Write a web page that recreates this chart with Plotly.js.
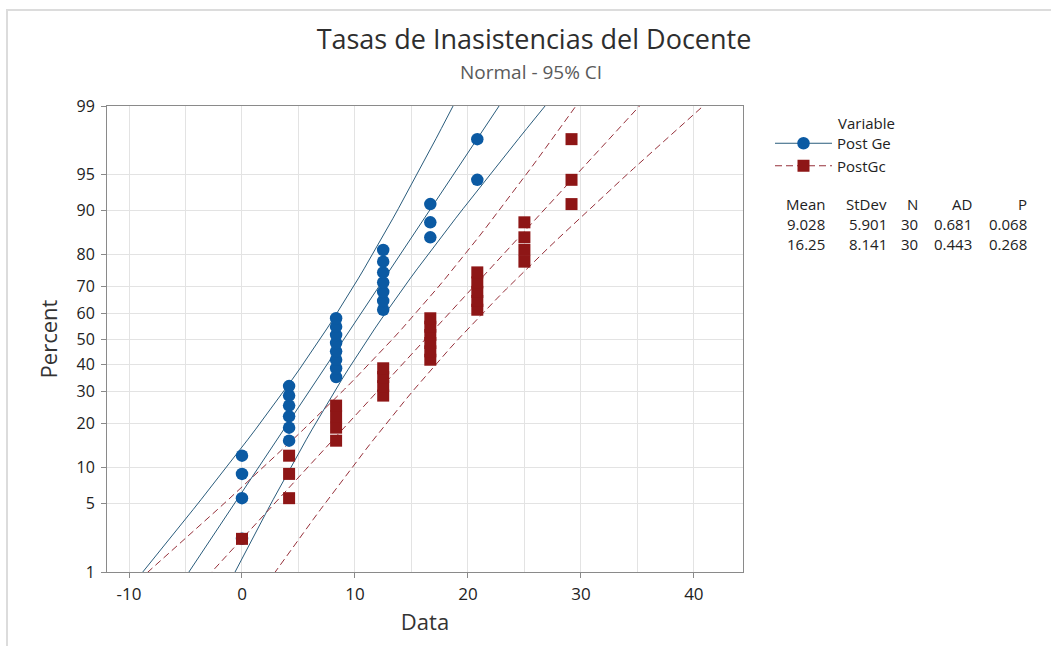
<!DOCTYPE html>
<html>
<head>
<meta charset="utf-8">
<script src="https://cdn.plot.ly/plotly-3.0.1.min.js"></script>
<style>html,body{margin:0;padding:0;background:#fff;}#chart{width:1051px;height:646px;}</style>
</head>
<body>
<div id="chart"></div>
<script>
// ---- Data ----
const seriesNames = ['Post Ge', 'PostGc'];
const postGeValues = [0, 0, 0, 0, 4.17, 4.17, 4.17, 4.17, 4.17, 4.17, 8.33, 8.33, 8.33, 8.33, 8.33, 8.33, 8.33, 8.33, 12.5, 12.5, 12.5, 12.5, 12.5, 12.5, 12.5, 16.67, 16.67, 16.67, 20.83, 20.83];
const postGcValues = [0, 4.17, 4.17, 4.17, 8.33, 8.33, 8.33, 8.33, 12.5, 12.5, 12.5, 12.5, 16.67, 16.67, 16.67, 16.67, 16.67, 16.67, 20.83, 20.83, 20.83, 20.83, 20.83, 25, 25, 25, 25, 29.17, 29.17, 29.17];
const plotPercents = [2.3, 5.6, 8.9, 12.2, 15.5, 18.8, 22.0, 25.3, 28.6, 31.9, 35.2, 38.5, 41.8, 45.1, 48.4, 51.6, 54.9, 58.2, 61.5, 64.8, 68.1, 71.4, 74.7, 78.0, 81.3, 84.5, 87.8, 91.1, 94.4, 97.7];
const means = [9.028, 16.25];
const stdevs = [5.901, 8.141];
const counts = [30, 30];
const adStats = ['0.681', '0.443'];
const pValues = ['0.068', '0.268'];
const meanLabels = ['9.028', '16.25'];
const stdevLabels = ['5.901', '8.141'];
const percentTicks = [1, 5, 10, 20, 30, 40, 50, 60, 70, 80, 90, 95, 99];
const dataTicks = [-10, 0, 10, 20, 30, 40];

// ---- Normal probability scale helper (inverse normal CDF, Acklam) ----
function invNorm(p) {
  const a = [-3.969683028665376e+01, 2.209460984245205e+02, -2.759285104469687e+02, 1.383577518672690e+02, -3.066479806614716e+01, 2.506628277459239e+00];
  const b = [-5.447609879822406e+01, 1.615858368580409e+02, -1.556989798598866e+02, 6.680131188771972e+01, -1.328068155288572e+01];
  const c = [-7.784894002430293e-03, -3.223964580411365e-01, -2.400758277161838e+00, -2.549732539343734e+00, 4.374664141464968e+00, 2.938163982698783e+00];
  const d = [7.784695709041462e-03, 3.224671290700398e-01, 2.445134137142996e+00, 3.754408661907416e+00];
  const pl = 0.02425, ph = 1 - pl;
  let q, r;
  if (p < pl) { q = Math.sqrt(-2 * Math.log(p)); return (((((c[0]*q+c[1])*q+c[2])*q+c[3])*q+c[4])*q+c[5]) / ((((d[0]*q+d[1])*q+d[2])*q+d[3])*q+1); }
  if (p <= ph) { q = p - 0.5; r = q*q; return (((((a[0]*r+a[1])*r+a[2])*r+a[3])*r+a[4])*r+a[5])*q / (((((b[0]*r+b[1])*r+b[2])*r+b[3])*r+b[4])*r+1); }
  q = Math.sqrt(-2 * Math.log(1 - p)); return -(((((c[0]*q+c[1])*q+c[2])*q+c[3])*q+c[4])*q+c[5]) / ((((d[0]*q+d[1])*q+d[2])*q+d[3])*q+1);
}
const toZ = pct => invNorm(pct / 100);

// fitted line and 95% CI bands from the reported mean / stdev / N
function fitCurves(mean, sd, n) {
  const zs = [], fit = [], lo = [], hi = [];
  for (let z = -2.7; z <= 2.7001; z += 0.1) {
    const se = sd * Math.sqrt(1 / n + z * z / (2 * n));
    zs.push(z); fit.push(mean + sd * z); lo.push(mean + sd * z - 1.96 * se); hi.push(mean + sd * z + 1.96 * se);
  }
  return { zs, fit, lo, hi };
}

const blue = '#0b5aa3', blueLine = '#2a5c7c';
const red = '#8e1616', redLine = '#96303a';
const styles = [
  { marker: { symbol: 'circle', size: 12.5, color: blue }, line: { color: blueLine, width: 1, dash: 'solid' } },
  { marker: { symbol: 'square', size: 12, color: red }, line: { color: redLine, width: 1, dash: '7px,4px' } }
];
const values = [postGeValues, postGcValues];

const traces = [];
for (let s = 0; s < 2; s++) {
  const c = fitCurves(means[s], stdevs[s], counts[s]);
  ['lo', 'fit', 'hi'].forEach(k => traces.push({ x: c[k], y: c.zs, mode: 'lines', line: styles[s].line, showlegend: false, hoverinfo: 'skip' }));
}
for (let s = 0; s < 2; s++) {
  traces.push({ x: values[s], y: plotPercents.map(toZ), mode: 'markers', marker: styles[s].marker, showlegend: false, name: seriesNames[s] });
}
for (let s = 0; s < 2; s++) {
  traces.push({ x: [null], y: [null], mode: 'lines+markers', marker: styles[s].marker, line: styles[s].line, name: seriesNames[s], showlegend: true });
}

const zMax = toZ(99);
const font = 'Segoe UI, "Open Sans", "Noto Sans", sans-serif';
const textFont = { family: font, size: 15, color: '#222' };

// stats table annotations
const cols = [
  { x: 826, head: 'Mean', vals: meanLabels },
  { x: 888, head: 'StDev', vals: stdevLabels },
  { x: 919, head: 'N', vals: counts.map(String) },
  { x: 973, head: 'AD', vals: adStats },
  { x: 1028, head: 'P', vals: pValues }
];
const L = 107, R = 743, T = 106, B = 572;
const px = x => (x - L) / (R - L);
const py = y => (B - y) / (B - T);
const annotations = [
  { xref: 'paper', yref: 'paper', x: px(837), y: py(123), xanchor: 'left', yanchor: 'middle', text: 'Variable', showarrow: false, font: textFont, borderpad: 0 },
  { xref: 'paper', yref: 'paper', x: px(531), y: py(72), xanchor: 'center', yanchor: 'middle', text: 'Normal - 95% CI', showarrow: false, font: { family: font, size: 19, color: '#5a5a5a' }, borderpad: 0 }
];
const rowsY = [204, 224, 244];
cols.forEach(c => {
  annotations.push({ xref: 'paper', yref: 'paper', x: px(c.x), y: py(rowsY[0]), xanchor: 'right', yanchor: 'middle', text: c.head, showarrow: false, font: textFont, borderpad: 0 });
  c.vals.forEach((v, i) => annotations.push({ xref: 'paper', yref: 'paper', x: px(c.x), y: py(rowsY[i + 1]), xanchor: 'right', yanchor: 'middle', text: v, showarrow: false, font: textFont, borderpad: 0 }));
});

const layout = {
  width: 1051, height: 646,
  margin: { l: L, r: 1051 - R, t: T, b: 646 - B, pad: 0 },
  paper_bgcolor: '#fff', plot_bgcolor: '#fff',
  font: { family: font, color: '#222' },
  title: {
    text: 'Tasas de Inasistencias del Docente',
    font: { family: font, size: 27, color: '#2e2e2e' },
    x: 534 / 1051, xanchor: 'center', xref: 'container',
    y: 1 - 40 / 646, yanchor: 'middle', yref: 'container'
  },
  xaxis: {
    range: [-11.95, 44.35], tickvals: dataTicks, ticktext: dataTicks.map(String),
    showgrid: true, gridcolor: '#e3e3e3', zeroline: false,
    minor: { dtick: 5, tick0: 0, showgrid: true, gridcolor: '#e3e3e3' },
    showline: true, linecolor: '#8a8a8a', linewidth: 1, mirror: true,
    ticks: 'outside', ticklen: 5, tickcolor: '#8a8a8a', ticklabelstandoff: 2,
    tickfont: { family: font, size: 17, color: '#222' },
    title: { text: 'Data', font: { family: font, size: 22, color: '#333' }, standoff: 10 }
  },
  yaxis: {
    range: [-zMax, zMax], tickvals: percentTicks.map(toZ), ticktext: percentTicks.map(String),
    showgrid: true, gridcolor: '#e3e3e3', zeroline: false,
    showline: true, linecolor: '#8a8a8a', linewidth: 1, mirror: true,
    ticks: 'outside', ticklen: 5, tickcolor: '#8a8a8a', ticklabelstandoff: 3,
    tickfont: { family: font, size: 16, color: '#222' },
    title: { text: 'Percent', font: { family: font, size: 22, color: '#333' }, standoff: 12 }
  },
  showlegend: true,
  legend: {
    x: px(770), y: py(127), xanchor: 'left', yanchor: 'top',
    font: textFont,
    bgcolor: 'rgba(0,0,0,0)', tracegroupgap: 0, itemwidth: 57
  },
  annotations: annotations,
  shapes: [{ type: 'path', xref: 'paper', yref: 'paper', path: `M ${px(7)} ${py(646)} L ${px(7)} ${py(10)} L ${px(1051)} ${py(10)}`, line: { color: '#dcdcdc', width: 2 } }]
};

Plotly.newPlot('chart', traces, layout, { displayModeBar: false, staticPlot: true });
</script>
</body>
</html>
